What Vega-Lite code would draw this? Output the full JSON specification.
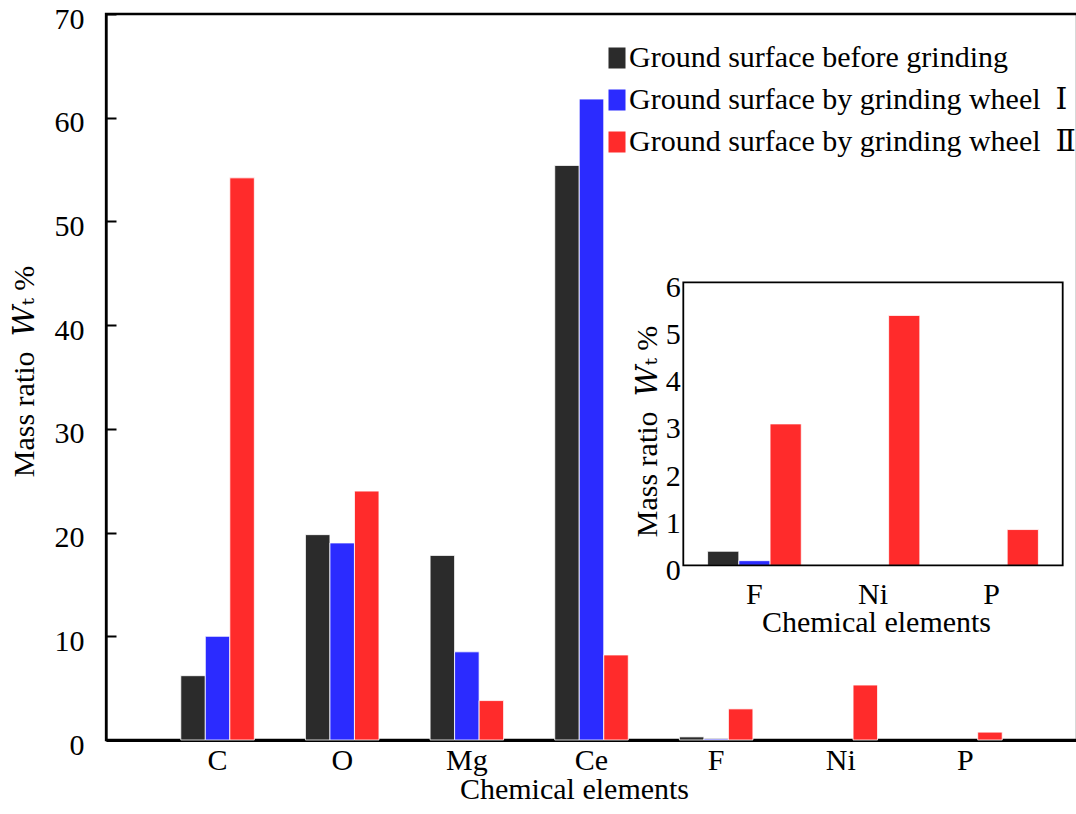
{
  "$schema": "https://vega.github.io/schema/vega-lite/v6.json",
  "width": 971,
  "height": 726,
  "autosize": {"type": "none"},
  "padding": {"left": 106, "top": 14, "right": 0, "bottom": 74},
  "background": "white",
  "config": {
    "font": "Liberation Serif",
    "view": {"stroke": "black", "strokeWidth": 2.3},
    "axis": {
      "labelFont": "Liberation Serif, DejaVu Serif",
      "titleFont": "Liberation Serif, DejaVu Serif",
      "labelColor": "black",
      "titleColor": "black",
      "titleFontWeight": "normal",
      "labelFontSize": 30,
      "titleFontSize": 30,
      "domainColor": "black",
      "tickColor": "black",
      "grid": false
    }
  },
  "data": {
    "values": [
      {"element": "C", "surface": "Ground surface before grinding", "value": 6.2},
      {"element": "C", "surface": "Ground surface by grinding wheel\u00a0 Ⅰ", "value": 10.0},
      {"element": "C", "surface": "Ground surface by grinding wheel\u00a0 Ⅱ", "value": 54.2},
      {"element": "O", "surface": "Ground surface before grinding", "value": 19.8},
      {"element": "O", "surface": "Ground surface by grinding wheel\u00a0 Ⅰ", "value": 19.0},
      {"element": "O", "surface": "Ground surface by grinding wheel\u00a0 Ⅱ", "value": 24.0},
      {"element": "Mg", "surface": "Ground surface before grinding", "value": 17.8},
      {"element": "Mg", "surface": "Ground surface by grinding wheel\u00a0 Ⅰ", "value": 8.5},
      {"element": "Mg", "surface": "Ground surface by grinding wheel\u00a0 Ⅱ", "value": 3.8},
      {"element": "Ce", "surface": "Ground surface before grinding", "value": 55.4},
      {"element": "Ce", "surface": "Ground surface by grinding wheel\u00a0 Ⅰ", "value": 61.8},
      {"element": "Ce", "surface": "Ground surface by grinding wheel\u00a0 Ⅱ", "value": 8.2},
      {"element": "F", "surface": "Ground surface before grinding", "value": 0.3},
      {"element": "F", "surface": "Ground surface by grinding wheel\u00a0 Ⅰ", "value": 0.1},
      {"element": "F", "surface": "Ground surface by grinding wheel\u00a0 Ⅱ", "value": 3.0},
      {"element": "Ni", "surface": "Ground surface by grinding wheel\u00a0 Ⅱ", "value": 5.3},
      {"element": "P", "surface": "Ground surface by grinding wheel\u00a0 Ⅱ", "value": 0.76}
    ]
  },
  "layer": [
    {
      "mark": {"type": "bar", "stroke": "white", "strokeWidth": 1, "strokeOpacity": 0.8},
      "encoding": {
        "x": {
          "field": "element",
          "type": "nominal",
          "scale": {"domain": ["C", "O", "Mg", "Ce", "F", "Ni", "P"], "paddingInner": 0.41, "paddingOuter": 0.6},
          "axis": {
            "title": "Chemical elements",
            "labelAngle": 0,
            "ticks": false,
            "domainWidth": 3,
            "labelPadding": 5,
            "titleX": 468,
            "titleY": 34,
            "titleAlign": "center",
            "titleBaseline": "top"
          }
        },
        "xOffset": {
          "field": "surface",
          "scale": {
            "domain": ["Ground surface before grinding", "Ground surface by grinding wheel\u00a0 Ⅰ", "Ground surface by grinding wheel\u00a0 Ⅱ"],
            "paddingInner": 0,
            "paddingOuter": 0
          }
        },
        "y": {
          "field": "value",
          "type": "quantitative",
          "scale": {"domain": [0, 70], "nice": false},
          "axis": {
            "title": "Mass ratio\u00a0 𝑊ₜ %",
            "values": [0, 10, 20, 30, 40, 50, 60, 70],
            "tickSize": -10,
            "tickWidth": 2,
            "domainWidth": 2.3,
            "labelPadding": 32,
            "labelOffset": 5,
            "titleX": -73,
            "titleY": 357,
            "titleAngle": 270,
            "titleAlign": "center",
            "titleBaseline": "alphabetic"
          }
        },
        "color": {
          "field": "surface",
          "type": "nominal",
          "scale": {
            "domain": ["Ground surface before grinding", "Ground surface by grinding wheel\u00a0 Ⅰ", "Ground surface by grinding wheel\u00a0 Ⅱ"],
            "range": ["#2b2b2b", "#2b2bff", "#ff2b2b"]
          },
          "legend": {
            "title": null,
            "orient": "none",
            "legendX": 496,
            "legendY": 29,
            "padding": 0,
            "symbolType": "M-0.81,-1H0.81V1H-0.81Z",
            "symbolSize": 441,
            "symbolStrokeWidth": 0,
            "labelFont": "Liberation Serif, DejaVu Serif",
            "labelFontSize": 30,
            "labelColor": "black",
            "labelOffset": -3,
            "labelLimit": 600,
            "rowPadding": 12
          }
        }
      }
    },
    {
      "transform": [{"filter": {"field": "element", "oneOf": ["F", "Ni", "P"]}}],
      "mark": {"type": "bar", "stroke": "white", "strokeWidth": 1, "strokeOpacity": 0.8},
      "encoding": {
        "x": {
          "field": "element",
          "type": "nominal",
          "scale": {"domain": ["F", "Ni", "P"], "range": [577.3, 956.7], "paddingInner": 0.21, "paddingOuter": 0.205},
          "axis": {
            "orient": "bottom",
            "offset": -174.7,
            "title": "Chemical elements",
            "labelAngle": 0,
            "ticks": false,
            "domain": false,
            "labelPadding": 14,
            "titleX": 770,
            "titleY": 42,
            "titleAlign": "center",
            "titleBaseline": "top"
          }
        },
        "xOffset": {
          "field": "surface",
          "scale": {
            "domain": ["Ground surface before grinding", "Ground surface by grinding wheel\u00a0 Ⅰ", "Ground surface by grinding wheel\u00a0 Ⅱ"],
            "paddingInner": 0,
            "paddingOuter": 0
          }
        },
        "y": {
          "field": "value",
          "type": "quantitative",
          "scale": {"domain": [0, 6], "nice": false, "range": [551.4, 268.4]},
          "axis": {
            "orient": "left",
            "offset": -577.3,
            "title": "Mass ratio\u00a0 𝑊ₜ %",
            "values": [0, 1, 2, 3, 4, 5, 6],
            "ticks": false,
            "domain": false,
            "labelPadding": 3,
            "labelOffset": 5,
            "titleX": -26.6,
            "titleY": 417,
            "titleAngle": 270,
            "titleAlign": "center",
            "titleBaseline": "alphabetic"
          }
        },
        "color": {"field": "surface", "type": "nominal"}
      }
    },
    {
      "data": {"values": [{"panel": "inset"}]},
      "mark": {"type": "rect", "filled": false, "stroke": "black", "strokeWidth": 1.8},
      "encoding": {
        "x": {"datum": 0, "type": "quantitative", "scale": {"domain": [0, 1], "range": [577.3, 956.7]}, "axis": null},
        "x2": {"datum": 1},
        "y": {"datum": 0, "type": "quantitative", "scale": {"domain": [0, 6], "range": [551.4, 268.4]}, "axis": null},
        "y2": {"datum": 6}
      }
    }
  ],
  "resolve": {
    "scale": {"x": "independent", "y": "independent", "xOffset": "independent"},
    "axis": {"x": "independent", "y": "independent"}
  }
}
